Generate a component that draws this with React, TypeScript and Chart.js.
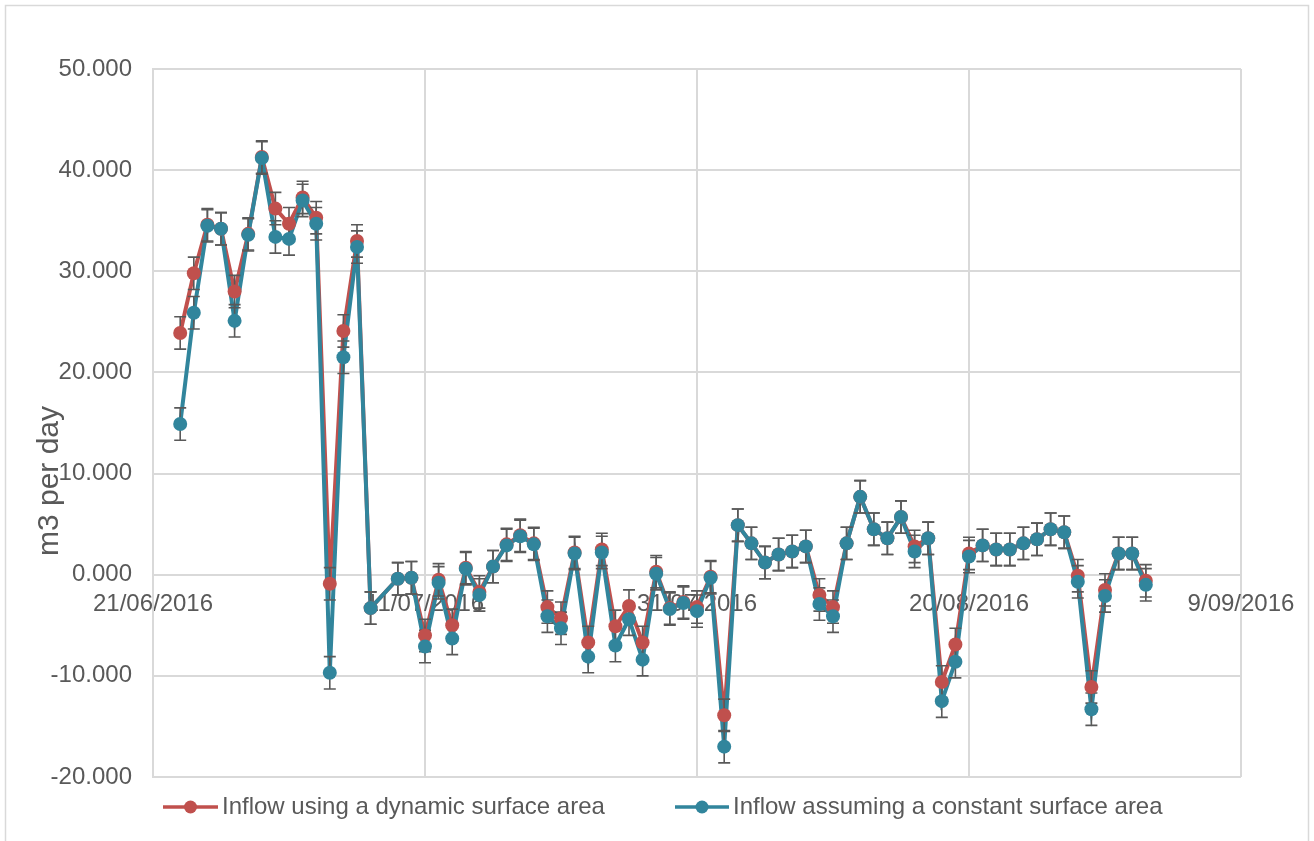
import React, { useEffect, useRef } from "react";
import { Chart, registerables } from "chart.js";

Chart.register(...registerables);

// ---- data ----
const startDate = "21/06/2016";
const dates = [
  "23/06/2016", "24/06/2016", "25/06/2016", "26/06/2016", "27/06/2016", "28/06/2016", "29/06/2016", "30/06/2016",
  "01/07/2016", "02/07/2016", "03/07/2016", "04/07/2016", "05/07/2016", "06/07/2016", "07/07/2016",
  "09/07/2016", "10/07/2016", "11/07/2016", "12/07/2016", "13/07/2016", "14/07/2016", "15/07/2016", "16/07/2016",
  "17/07/2016", "18/07/2016", "19/07/2016", "20/07/2016", "21/07/2016", "22/07/2016", "23/07/2016", "24/07/2016",
  "25/07/2016", "26/07/2016", "27/07/2016", "28/07/2016", "29/07/2016", "30/07/2016", "31/07/2016",
  "01/08/2016", "02/08/2016", "03/08/2016", "04/08/2016", "05/08/2016", "06/08/2016", "07/08/2016", "08/08/2016",
  "09/08/2016", "10/08/2016", "11/08/2016", "12/08/2016", "13/08/2016", "14/08/2016", "15/08/2016", "16/08/2016",
  "17/08/2016", "18/08/2016", "19/08/2016", "20/08/2016", "21/08/2016", "22/08/2016", "23/08/2016", "24/08/2016",
  "25/08/2016", "26/08/2016", "27/08/2016", "28/08/2016", "29/08/2016", "30/08/2016", "31/08/2016",
  "01/09/2016", "02/09/2016",
];

const dynamicInflow = [
  23.9, 29.8, 34.6, 34.2, 28.0, 33.7, 41.3, 36.2,
  34.7, 37.3, 35.3, -0.9, 24.1, 33.0, -3.3,
  -0.4, -0.3, -6.0, -0.5, -5.0, 0.7, -1.7, 0.8,
  3.0, 3.9, 3.1, -3.2, -4.3, 2.2, -6.7, 2.5,
  -5.1, -3.1, -6.7, 0.3, -3.3, -2.7, -3.2,
  -0.2, -13.9, 4.9, 3.1, 1.2, 2.0, 2.3, 2.8,
  -2.0, -3.2, 3.1, 7.7, 4.5, 3.6, 5.7, 2.8,
  3.6, -10.6, -6.9, 2.1, 2.9, 2.5, 2.5, 3.1,
  3.5, 4.5, 4.2, -0.1, -11.1, -1.5, 2.1,
  2.1, -0.6,
];

const constantInflow = [
  14.9, 25.9, 34.5, 34.2, 25.1, 33.6, 41.2, 33.4,
  33.2, 37.0, 34.7, -9.7, 21.5, 32.4, -3.3,
  -0.4, -0.3, -7.1, -0.8, -6.3, 0.6, -2.0, 0.8,
  2.9, 3.8, 3.0, -4.1, -5.3, 2.1, -8.1, 2.2,
  -7.0, -4.4, -8.4, 0.1, -3.4, -2.8, -3.6,
  -0.3, -17.0, 4.9, 3.1, 1.2, 2.0, 2.3, 2.8,
  -2.9, -4.1, 3.1, 7.7, 4.5, 3.6, 5.7, 2.3,
  3.6, -12.5, -8.6, 1.8, 2.9, 2.5, 2.5, 3.1,
  3.5, 4.5, 4.2, -0.7, -13.3, -2.1, 2.1,
  2.1, -1.0,
];

const errorMargin = 1.6;
const xTickLabels = ["21/06/2016", "11/07/2016", "31/07/2016", "20/08/2016", "9/09/2016"];
const seriesNames = ["Inflow using a dynamic surface area", "Inflow assuming a constant surface area"];
const seriesColors = ["#C0504D", "#31859C"];
const yTitle = "m3 per day";

// ---- helpers ----
const FONT = "'Liberation Sans', Arial, sans-serif";
const TEXT = "#595959";
const GRID = "#d9d9d9";

function toUTC(s: string): number {
  const [d, m, y] = s.split("/").map(Number);
  return Date.UTC(y, m - 1, d);
}
function dayOffset(s: string): number {
  return Math.round((toUTC(s) - toUTC(startDate)) / 86400000);
}
const xs = dates.map(dayOffset);
const dynPts = xs.map((x, i) => ({ x, y: dynamicInflow[i] }));
const conPts = xs.map((x, i) => ({ x, y: constantInflow[i] }));

const errorBarPlugin = {
  id: "errorBars",
  beforeDatasetDraw(chart: any, args: any) {
    // draw error bars once, right before the first marker dataset (red markers)
    if (chart.data.datasets[args.index]._errorAnchor !== true) return;
    const ctx = chart.ctx;
    const yScale = chart.scales.y;
    const xScale = chart.scales.x;
    ctx.save();
    ctx.strokeStyle = TEXT;
    ctx.lineWidth = 1.6;
    const series = [dynPts, conPts];
    series.forEach((pts) => {
      pts.forEach((p) => {
        const px = xScale.getPixelForValue(p.x);
        const yt = yScale.getPixelForValue(p.y + errorMargin);
        const yb = yScale.getPixelForValue(p.y - errorMargin);
        ctx.beginPath();
        ctx.moveTo(px, yt);
        ctx.lineTo(px, yb);
        ctx.moveTo(px - 6, yt);
        ctx.lineTo(px + 6, yt);
        ctx.moveTo(px - 6, yb);
        ctx.lineTo(px + 6, yb);
        ctx.stroke();
      });
    });
    ctx.restore();
  },
};

const decorPlugin = {
  id: "decor",
  beforeDraw(chart: any) {
    const ctx = chart.ctx;
    ctx.save();
    ctx.fillStyle = "#ffffff";
    ctx.fillRect(0, 0, chart.width, chart.height);
    ctx.strokeStyle = GRID;
    ctx.lineWidth = 1.5;
    ctx.strokeRect(5.5, 5.5, chart.width - 11, chart.height + 20);
    ctx.restore();
  },
  afterDraw(chart: any) {
    const ctx = chart.ctx;
    ctx.save();
    // y-axis title
    ctx.translate(50, 481);
    ctx.rotate(-Math.PI / 2);
    ctx.font = `30px ${FONT}`;
    ctx.fillStyle = TEXT;
    ctx.textAlign = "center";
    ctx.textBaseline = "middle";
    ctx.fillText(yTitle, 0, 0);
    ctx.restore();

    // legend
    const ly = 807;
    const items = [
      { x0: 163, x1: 218, tx: 222 },
      { x0: 675, x1: 729, tx: 733 },
    ];
    items.forEach((it, i) => {
      ctx.save();
      ctx.strokeStyle = seriesColors[i];
      ctx.fillStyle = seriesColors[i];
      ctx.lineWidth = 3.5;
      ctx.beginPath();
      ctx.moveTo(it.x0, ly);
      ctx.lineTo(it.x1, ly);
      ctx.stroke();
      ctx.beginPath();
      ctx.arc((it.x0 + it.x1) / 2, ly, 6.5, 0, Math.PI * 2);
      ctx.fill();
      ctx.font = `24px ${FONT}`;
      ctx.fillStyle = TEXT;
      ctx.textAlign = "left";
      ctx.textBaseline = "middle";
      ctx.fillText(seriesNames[i], it.tx, ly);
      ctx.restore();
    });
  },
};

export default function App() {
  const ref = useRef<HTMLCanvasElement | null>(null);

  useEffect(() => {
    if (!ref.current) return;
    const lineDs = (pts: any[], color: string, order: number) => ({
      data: pts,
      borderColor: color,
      backgroundColor: color,
      borderWidth: 4,
      pointRadius: 0,
      tension: 0,
      order,
    });
    const markerDs = (pts: any[], color: string, order: number, anchor: boolean) => ({
      data: pts,
      borderColor: color,
      backgroundColor: color,
      showLine: false,
      pointRadius: 7,
      pointBorderWidth: 0,
      order,
      _errorAnchor: anchor,
    });
    const chart = new Chart(ref.current, {
      type: "line",
      data: {
        datasets: [
          lineDs(dynPts, seriesColors[0], 4) as any,
          lineDs(conPts, seriesColors[1], 3) as any,
          markerDs(dynPts, seriesColors[0], 2, true) as any,
          markerDs(conPts, seriesColors[1], 1, false) as any,
        ],
      },
      options: {
        animation: false,
        responsive: false,
        devicePixelRatio: 1,
        layout: { padding: { left: 0, top: 69, right: 73, bottom: 64 } },
        plugins: { legend: { display: false }, tooltip: { enabled: false } },
        scales: {
          x: {
            type: "linear",
            min: 0,
            max: 80,
            position: { y: 0 } as any,
            grid: { color: GRID, lineWidth: 2, drawTicks: false },
            border: { display: false },
            ticks: {
              stepSize: 20,
              autoSkip: false,
              maxRotation: 0,
              padding: 15,
              color: TEXT,
              font: { family: FONT, size: 24 },
              callback: (v: any) => xTickLabels[Math.round(Number(v) / 20)] ?? "",
            },
          },
          y: {
            min: -20,
            max: 50,
            grid: { color: GRID, lineWidth: 2, drawTicks: false },
            border: { color: GRID, width: 2 },
            ticks: {
              stepSize: 10,
              padding: 21,
              color: TEXT,
              font: { family: FONT, size: 24 },
              callback: (v: any) => Number(v).toFixed(3),
            },
            afterFit: (scale: any) => {
              scale.width = 153;
            },
          },
        },
      },
      plugins: [errorBarPlugin, decorPlugin],
    } as any);
    return () => chart.destroy();
  }, []);

  return (
    <div style={{ position: "fixed", left: 0, top: 0, width: 1314, height: 841, background: "#fff" }}>
      <canvas ref={ref} width={1314} height={841} style={{ display: "block" }} />
    </div>
  );
}
